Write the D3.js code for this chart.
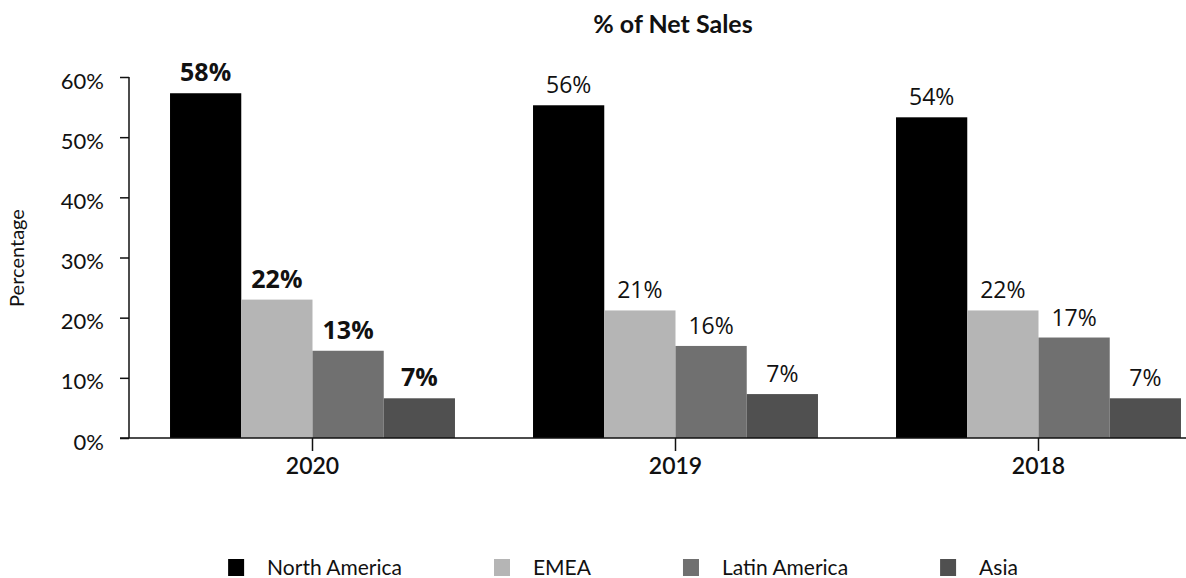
<!DOCTYPE html>
<html>
<head>
<meta charset="utf-8">
<script src="https://cdn.jsdelivr.net/npm/d3@7"></script>
<style>
  html, body { margin: 0; padding: 0; background: #fff; }
  svg { display: block; }
</style>
</head>
<body>
<svg id="chart" width="1186" height="578"></svg>
<script>
// ---- data ----
const years = ["2020", "2019", "2018"];
const regions = ["North America", "EMEA", "Latin America", "Asia"];
const colors = ["#000000", "#b5b5b5", "#707070", "#505050"];
// bar heights as drawn (fraction of net sales)
const northAmerica = [0.573, 0.553, 0.533];
const emea = [0.230, 0.212, 0.212];
const latinAmerica = [0.145, 0.153, 0.167];
const asia = [0.066, 0.073, 0.066];
// printed labels
const northAmericaLabels = ["58%", "56%", "54%"];
const emeaLabels = ["22%", "21%", "22%"];
const latinAmericaLabels = ["13%", "16%", "17%"];
const asiaLabels = ["7%", "7%", "7%"];
const yTicks = [0, 0.1, 0.2, 0.3, 0.4, 0.5, 0.6];
const boldYear = "2020";

const seriesValues = [northAmerica, emea, latinAmerica, asia];
const seriesLabels = [northAmericaLabels, emeaLabels, latinAmericaLabels, asiaLabels];

const svg = d3.select("#chart");
const W = 1186, H = 578;
const font = "Lato, 'Noto Sans', sans-serif";

const y = d3.scaleLinear().domain([0, 0.6]).range([438, 77]);
const x0 = d3.scaleBand().domain(years).range([131, 1220]).paddingInner(0.215).paddingOuter(0.1075);
const x1 = d3.scaleBand().domain(regions).range([0, x0.bandwidth()]).padding(0);

// title
svg.append("text")
  .attr("x", 673).attr("y", 33)
  .attr("text-anchor", "middle")
  .style("font-family", font).style("font-weight", 700).style("font-size", "25px")
  .attr("fill", "#111")
  .text("% of Net Sales");

// y axis label
svg.append("text")
  .attr("transform", "translate(24,258) rotate(-90)")
  .attr("text-anchor", "middle")
  .style("font-family", font).style("font-size", "20px")
  .attr("fill", "#111")
  .text("Percentage");

// bars
const groups = svg.append("g").selectAll("g")
  .data(years).join("g")
  .attr("transform", d => `translate(${x0(d)},0)`);

groups.selectAll("rect")
  .data((yr, i) => regions.map((r, k) => ({ r, k, v: seriesValues[k][i] })))
  .join("rect")
  .attr("x", d => x1(d.r))
  .attr("width", x1.bandwidth())
  .attr("y", d => y(d.v))
  .attr("height", d => y(0) - y(d.v))
  .attr("fill", d => colors[d.k]);

groups.selectAll("text.val")
  .data((yr, i) => regions.map((r, k) => ({ r, k, v: seriesValues[k][i], lab: seriesLabels[k][i], bold: yr === boldYear })))
  .join("text")
  .attr("class", "val")
  .attr("x", d => x1(d.r) + x1.bandwidth() / 2)
  .attr("y", d => y(d.v) - 12)
  .attr("text-anchor", "middle")
  .style("font-family", "'Open Sans', sans-serif")
  .style("font-weight", d => d.bold ? 700 : 400)
  .style("font-size", d => d.bold ? "25px" : "23px")
  .attr("fill", "#111")
  .text(d => d.lab);

// y axis
const yAxis = svg.append("g")
  .attr("transform", "translate(129,0)")
  .call(d3.axisLeft(y).tickValues(yTicks).tickFormat(d3.format(".0%")).tickSize(9).tickPadding(16));
yAxis.select(".domain").attr("stroke", "#111").attr("stroke-width", 1.5).attr("d", `M0,${y(0)}V${y(0.6)}`);
yAxis.selectAll(".tick line").attr("stroke", "#111").attr("stroke-width", 1.5);
yAxis.selectAll(".tick text")
  .style("font-family", font).style("font-size", "22px").attr("fill", "#111").attr("dy", "0.5em");

// x axis
const xAxis = svg.append("g")
  .attr("transform", `translate(0,${y(0)})`)
  .call(d3.axisBottom(x0).tickSize(13).tickPadding(7));
xAxis.select(".domain").attr("stroke", "#111").attr("stroke-width", 1.5).attr("d", `M120,0H${W}`);
xAxis.selectAll(".tick line").attr("stroke", "#111").attr("stroke-width", 1.5);
xAxis.selectAll(".tick text")
  .style("font-family", font).style("font-weight", 600).style("font-size", "23px").attr("fill", "#111");

// legend
const legend = svg.append("g");
const items = legend.selectAll("g").data(regions).join("g");
items.append("rect")
  .attr("x", 0).attr("y", 559).attr("width", 16).attr("height", 17)
  .attr("fill", (d, i) => colors[i]);
items.append("text")
  .attr("x", 39).attr("y", 575)
  .style("font-family", font).style("font-size", "21px").attr("fill", "#111")
  .text(d => d);
let cx = 0;
const gap = 92;
const offsets = [];
items.each(function () {
  offsets.push(cx);
  const w = 39 + d3.select(this).select("text").node().getComputedTextLength();
  cx += w + gap;
});
const total = cx - gap;
const start = 623 - total / 2;
items.attr("transform", (d, i) => `translate(${start + offsets[i]},0)`);
</script>
</body>
</html>
